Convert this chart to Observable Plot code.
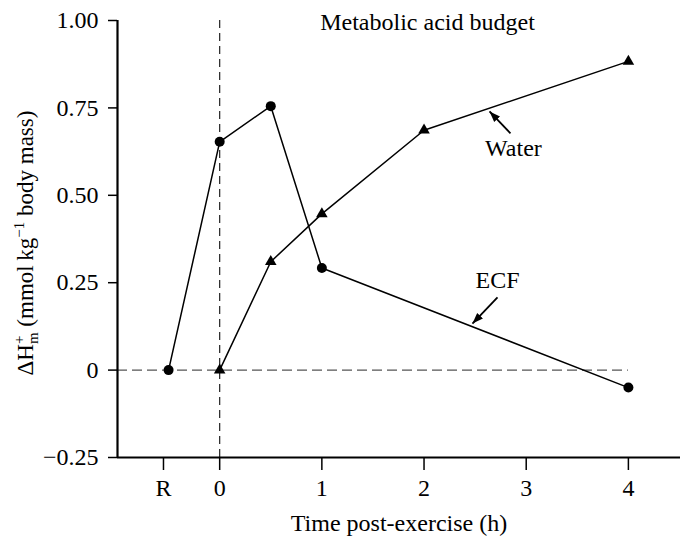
<!DOCTYPE html>
<html><head><meta charset="utf-8">
<script src="https://cdn.jsdelivr.net/npm/d3@7"></script>
<script src="https://cdn.jsdelivr.net/npm/@observablehq/plot@0.6"></script>
<style>
body{margin:0;background:#fff}
svg, svg text { font-family: "Liberation Serif", "DejaVu Serif", serif !important; }
</style>
</head><body><div id="chart"></div>
<script>
// Data
const ecfTime = [-0.5, 0, 0.5, 1, 4];
const ecfValue = [0, 0.653, 0.755, 0.292, -0.05];
const waterTime = [0, 0.5, 1, 2, 4];
const waterValue = [0, 0.31, 0.447, 0.686, 0.883];
const xTicks = [-0.55, 0, 1, 2, 3, 4];
const xTickLabels = ["R", "0", "1", "2", "3", "4"];
const yTicks = [-0.25, 0, 0.25, 0.5, 0.75, 1.0];
const yTickLabels = ["\u22120.25", "0", "0.25", "0.50", "0.75", "1.00"];
const titleText = "Metabolic acid budget";
const xTitle = "Time post-exercise (h)";
const seriesNames = ["Water", "ECF"];
const labelX = [2.875, 2.719];
const labelY = [0.634, 0.256];
const arrowFromX = [2.846, 2.719];
const arrowFromY = [0.677, 0.208];
const arrowToX = [2.641, 2.474];
const arrowToY = [0.740, 0.133];

const ecf = ecfTime.map((t, i) => ({t, v: ecfValue[i]}));
const water = waterTime.map((t, i) => ({t, v: waterValue[i]}));
const labels = seriesNames.map((name, i) => ({name, x: labelX[i], y: labelY[i],
  x1: arrowFromX[i], y1: arrowFromY[i], x2: arrowToX[i], y2: arrowToY[i]}));

const font = "Liberation Serif, DejaVu Serif, serif";

// filled triangular arrowhead marker
const filledArrow = (color, context) => {
  const m = d3.create("svg:marker")
    .attr("viewBox", "0 -6 12 12")
    .attr("markerUnits", "userSpaceOnUse")
    .attr("markerWidth", 12)
    .attr("markerHeight", 12)
    .attr("refX", 11)
    .attr("refY", 0)
    .attr("orient", "auto")
    .attr("fill", color)
    .attr("stroke", "none");
  m.append("path").attr("d", "M0,-4L11,0L0,4Z");
  return m.node();
};

const plot = Plot.plot({
  width: 682,
  height: 536,
  marginLeft: 117,
  marginRight: 2,
  marginTop: 20,
  marginBottom: 79,
  style: {fontFamily: font, fontSize: "24px", color: "#000", background: "#fff"},
  x: {domain: [-1, 4.51]},
  y: {domain: [-0.25, 1.0]},
  marks: [
    Plot.ruleX([0], {y1: -0.25, y2: 1.0, stroke: "#222", strokeWidth: 1.2, strokeDasharray: "8,5"}),
    Plot.ruleY([0], {x1: -1, x2: 4, stroke: "#555", strokeWidth: 1.3, strokeDasharray: "10,5"}),
    Plot.axisY({ticks: yTicks, tickFormat: (d) => yTickLabels[yTicks.indexOf(d)], tickSize: 9, tickPadding: 10, label: null, strokeWidth: 1.5}),
    Plot.axisX({ticks: xTicks, tickFormat: (d) => xTickLabels[xTicks.indexOf(d)], tickSize: 13, tickPadding: 8, label: null, strokeWidth: 1.5}),
    Plot.ruleX([-1], {y1: -0.25, y2: 1.0, stroke: "#000", strokeWidth: 2.2}),
    Plot.ruleY([-0.25], {stroke: "#000", strokeWidth: 2.2}),
    Plot.line(ecf, {x: "t", y: "v", stroke: "#000", strokeWidth: 1.5}),
    Plot.line(water, {x: "t", y: "v", stroke: "#000", strokeWidth: 1.5}),
    Plot.dot(ecf, {x: "t", y: "v", r: 5, fill: "#000", stroke: "none"}),
    Plot.dot(water, {x: "t", y: "v", r: 4.3, symbol: "triangle", fill: "#000", stroke: "none"}),
    Plot.link(labels, {x1: "x1", y1: "y1", x2: "x2", y2: "y2", stroke: "#000", strokeWidth: 1.8, markerEnd: filledArrow}),
    Plot.text(labels, {x: "x", y: "y", text: "name", fill: "#000"}),
    Plot.text([titleText], {x: 2.034, y: 0.996, text: (d) => d, fill: "#000"}),
    Plot.text([xTitle], {frameAnchor: "bottom", dy: 73, lineAnchor: "bottom", text: (d) => d, fill: "#000"})
  ]
});

const svg = d3.select(plot);
const t = svg.append("text")
  .attr("transform", "translate(33,243) rotate(-90)")
  .attr("text-anchor", "middle")
  .attr("font-size", 23)
  .attr("fill", "#000");
t.append("tspan").text("\u0394H");
t.append("tspan").attr("font-size", 15).attr("dy", -9).text("+");
t.append("tspan").attr("font-size", 15).attr("dx", -8.5).attr("dy", 14).text("m");
t.append("tspan").attr("dy", -5).text(" (mmol\u2009kg");
t.append("tspan").attr("font-size", 15).attr("dy", -9).text("\u22121");
t.append("tspan").attr("dy", 9).text(" body mass)");

document.getElementById("chart").appendChild(plot);
</script>
</body></html>
